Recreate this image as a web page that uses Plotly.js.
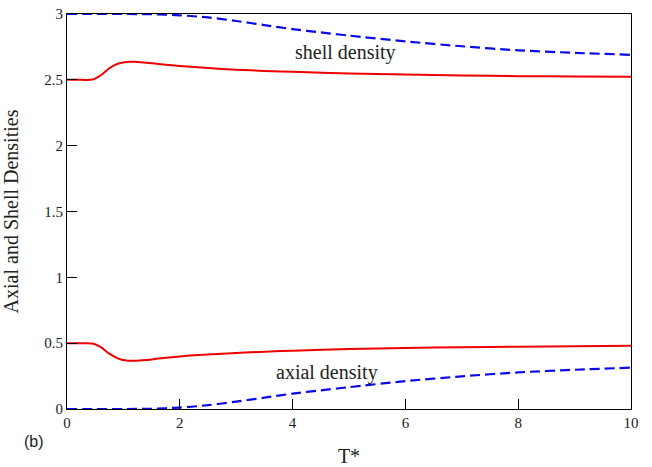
<!DOCTYPE html>
<html>
<head>
<meta charset="utf-8">
<script src="https://cdn.plot.ly/plotly-3.0.1.min.js"></script>
<style>
  html, body { margin: 0; padding: 0; background: #fff; }
  #chart { width: 652px; height: 467px; }
</style>
</head>
<body>
<div id="chart"></div>
<script>
// Reduced time T* on the x axis
const tRed = [0, 0.25, 0.45, 0.6, 0.75, 0.9, 1.05, 1.2, 1.4, 1.7, 2, 2.5, 3, 3.5, 4, 5, 6, 7, 8, 9, 10];
// Solid red curves: shell and axial densities
const shellSolid = [2.5, 2.5, 2.502, 2.535, 2.588, 2.622, 2.636, 2.637, 2.63, 2.617, 2.606, 2.59, 2.577, 2.568, 2.561, 2.549, 2.54, 2.533, 2.528, 2.525, 2.523];
const axialSolid = [0.5, 0.5, 0.497, 0.47, 0.42, 0.385, 0.368, 0.366, 0.372, 0.387, 0.399, 0.413, 0.425, 0.435, 0.443, 0.455, 0.463, 0.469, 0.473, 0.477, 0.48];

const tBlue = [0, 0.5, 1, 1.5, 2, 2.5, 3, 3.5, 4, 4.5, 5, 6, 7, 8, 9, 10];
// Dashed blue curves: shell and axial densities
const shellDashed = [3, 3, 3, 2.998, 2.99, 2.974, 2.947, 2.916, 2.885, 2.86, 2.836, 2.792, 2.755, 2.724, 2.705, 2.69];
const axialDashed = [0, 0, 0, 0.002, 0.011, 0.029, 0.056, 0.086, 0.117, 0.142, 0.166, 0.212, 0.248, 0.278, 0.298, 0.314];

const serif = "Liberation Serif";
const ink = "#000";
const textInk = "#222";
const redLine = {color: "#ee0000", width: 2, shape: "spline", smoothing: 0.8};
const blueLine = {color: "#0a0ae6", width: 2.2, dash: "10px,5px", shape: "spline", smoothing: 0.8};

const traces = [
  {x: tRed, y: shellSolid, mode: "lines", line: redLine},
  {x: tRed, y: axialSolid, mode: "lines", line: redLine},
  {x: tBlue, y: shellDashed, mode: "lines", line: blueLine},
  {x: tBlue, y: axialDashed, mode: "lines", line: blueLine}
];

const layout = {
  width: 652, height: 467,
  margin: {l: 67, r: 21, t: 14, b: 58},
  paper_bgcolor: "#fff", plot_bgcolor: "#fff",
  showlegend: false,
  font: {family: serif, size: 15, color: textInk},
  xaxis: {
    range: [0, 10], dtick: 2,
    showline: true, linecolor: ink, linewidth: 1, mirror: true,
    ticks: "inside", ticklen: 10, tickwidth: 1, tickcolor: ink,
    showgrid: false, zeroline: false,
    tickfont: {family: serif, size: 15, color: textInk},
    title: {text: "T*", font: {family: serif, size: 20, color: textInk}}
  },
  yaxis: {
    range: [0, 3], dtick: 0.5,
    showline: true, linecolor: ink, linewidth: 1, mirror: true,
    ticks: "inside", ticklen: 10, tickwidth: 1, tickcolor: ink,
    showgrid: false, zeroline: false,
    tickfont: {family: serif, size: 15, color: textInk},
    title: {text: "Axial and Shell Densities", font: {family: serif, size: 20, color: textInk}}
  },
  annotations: [
    {x: 4.93, y: 2.71, xref: "x", yref: "y", text: "shell density", showarrow: false,
     font: {family: serif, size: 20, color: textInk}},
    {x: 4.61, y: 0.28, xref: "x", yref: "y", text: "axial density", showarrow: false,
     font: {family: serif, size: 20, color: textInk}},
    {x: (22 - 67) / 564, y: (409 - 452) / 395, xref: "paper", yref: "paper", text: "(b)", showarrow: false,
     font: {family: "Liberation Sans", size: 16, color: textInk}}
  ]
};

Plotly.newPlot("chart", traces, layout, {displayModeBar: false});
</script>
</body>
</html>
